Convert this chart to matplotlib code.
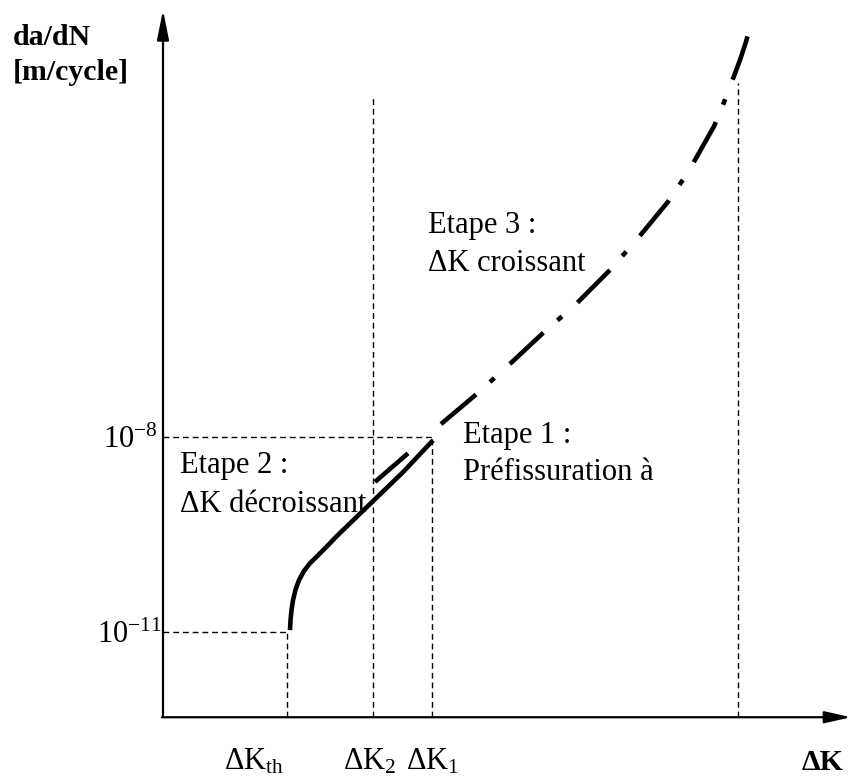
import matplotlib
matplotlib.use("Agg")
import matplotlib.pyplot as plt

plt.rcParams['font.family'] = ['Liberation Serif', 'DejaVu Serif']
plt.rcParams['mathtext.fontset'] = 'custom'
plt.rcParams['mathtext.rm'] = 'Liberation Serif'
plt.rcParams['mathtext.it'] = 'Liberation Serif:italic'
plt.rcParams['mathtext.bf'] = 'Liberation Serif:bold'
plt.rcParams['lines.scale_dashes'] = False

# x = delta K (arbitrary units), y = log10(da/dN)
dk_th, dk_2, dk_1, dk_max = 1.24, 2.10, 2.69, 5.75
log_low, log_mid = -11, -8

# stage 2 : decreasing delta K (solid curve)
stage2_x = [1.27, 1.275, 1.285, 1.30, 1.325, 1.36, 1.41, 1.47, 1.55, 1.64, 1.74, 2.07, 2.40, 2.70]
stage2_y = [-10.97, -10.82, -10.66, -10.51, -10.35, -10.20, -10.06, -9.94, -9.82, -9.68, -9.52, -9.03, -8.54, -8.05]

# short precracking segment above stage 2
stage1_x = [2.12, 2.45]
stage1_y = [-8.69, -8.25]

# stage 3 : increasing delta K (dash-dot curve)
stage3_x = [2.78, 3.15, 3.48, 3.80, 4.14, 4.47, 4.75, 5.05, 5.17, 5.29, 5.51, 5.60, 5.68, 5.77, 5.83, 5.89]
stage3_y = [-7.80, -7.32, -6.86, -6.40, -5.94, -5.43, -4.94, -4.38, -4.11, -3.82, -3.22, -2.89, -2.57, -2.20, -1.92, -1.58]

x_top = 6.88
y_top = -1.43
y_axis = -12.31

fig = plt.figure(figsize=(8.52, 7.79), dpi=100)
ax = fig.add_axes([0, 0, 1, 1])
ax.set_xlim(-1.63, 6.89)
ax.set_ylim(-13.26, -1.277)
ax.axis('off')

# axes with arrows
ax.annotate('', xy=(0, y_top), xytext=(0, y_axis),
            arrowprops=dict(arrowstyle='-|>,head_length=0.9,head_width=0.18',
                            lw=1.6, color='black', shrinkA=0, shrinkB=0, mutation_scale=20))
ax.annotate('', xy=(x_top, y_axis), xytext=(-0.01, y_axis),
            arrowprops=dict(arrowstyle='-|>,head_length=0.8,head_width=0.18',
                            lw=1.6, color='black', shrinkA=0, shrinkB=0, mutation_scale=20))

# dashed reference lines
ref = dict(color='black', lw=1.0, linestyle=(0, (4.2, 2.8)))
ax.plot([0, dk_th], [log_low, log_low], **ref)
ax.plot([0, dk_1], [log_mid, log_mid], **ref)
ax.plot([dk_th, dk_th], [y_axis, log_low], **ref)
ax.plot([dk_2, dk_2], [y_axis, -2.77], **ref)
ax.plot([dk_1, dk_1], [y_axis, log_mid], **ref)
ax.plot([dk_max, dk_max], [y_axis, -2.55], **ref)

# curves
ax.plot(stage2_x, stage2_y, color='black', lw=3.3, solid_capstyle='butt', solid_joinstyle='round')
ax.plot(stage1_x, stage1_y, color='black', lw=3.3, solid_capstyle='butt')
ax.plot(stage3_x, stage3_y, color='black', lw=3.3, dash_capstyle='butt',
        linestyle=(0, (33, 13.5, 4.3, 15)))

fs = 22
fb = 21.5
ax.text(-1.50, -1.97, 'da/dN', fontsize=fb, fontweight='bold', va='baseline')
ax.text(-1.50, -2.51, '[m/cycle]', fontsize=fb, fontweight='bold', va='baseline')
ax.text(-0.05, -8.17, r'10$^{\mathrm{-8}}$', fontsize=fs, ha='right', va='baseline')
ax.text(-0.01, -11.17, r'10$^{\mathrm{-11}}$', fontsize=fs, ha='right', va='baseline')

ax.text(0.17, -8.55, 'Etape 2 :', fontsize=fs, va='baseline')
ax.text(0.17, -9.15, 'ΔK décroissant', fontsize=fs, va='baseline')
ax.text(3.00, -8.09, 'Etape 1 :', fontsize=fs, va='baseline')
ax.text(3.00, -8.66, 'Préfissuration à', fontsize=fs, va='baseline')
ax.text(2.65, -4.86, 'Etape 3 :', fontsize=fs, va='baseline')
ax.text(2.65, -5.45, 'ΔK croissant', fontsize=fs, va='baseline')

ax.text(0.61, -13.12, r'ΔK$_{\mathrm{th}}$', fontsize=fs, va='baseline')
ax.text(1.80, -13.12, r'ΔK$_{\mathrm{2}}$', fontsize=fs, va='baseline')
ax.text(2.43, -13.12, r'ΔK$_{\mathrm{1}}$', fontsize=fs, va='baseline')
ax.text(6.39, -13.12, 'ΔK', fontsize=fb, fontweight='bold', va='baseline')

fig.savefig('out.png', dpi=100)
